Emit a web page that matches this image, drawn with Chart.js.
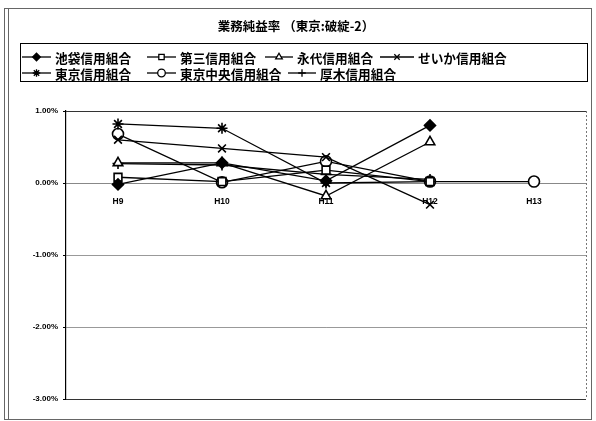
<!DOCTYPE html>
<html>
<head>
<meta charset="utf-8">
<script src="https://cdn.jsdelivr.net/npm/chart.js@4/dist/chart.umd.min.js"></script>
<style>
  body { margin: 0; background: #fff; }
  canvas { display: block; }
</style>
</head>
<body>
<canvas id="chart" width="596" height="421"></canvas>
<script>
const categories = ["H9", "H10", "H11", "H12", "H13"];
const seriesNames = ["池袋信用組合", "第三信用組合", "永代信用組合", "せいか信用組合", "東京信用組合", "東京中央信用組合", "厚木信用組合"];

const ikebukuro = [-0.02, 0.28, 0.03, 0.80, null];
const daisan = [0.08, 0.02, 0.18, 0.02, null];
const eidai = [0.28, 0.28, -0.18, 0.57, null];
const seika = [0.60, 0.48, 0.36, -0.30, null];
const tokyo = [0.82, 0.76, 0.00, 0.02, null];
const tokyoChuo = [0.68, 0.01, 0.30, 0.02, 0.02];
const atsugi = [0.27, 0.25, 0.12, 0.05, null];

const yTicks = [1, 0, -1, -2, -3];

const seriesValues = [ikebukuro, daisan, eidai, seika, tokyo, tokyoChuo, atsugi];
const markers = [
  { style: "rectRot", fill: "#000" },
  { style: "rect", fill: "#fff" },
  { style: "triangle", fill: "#fff" },
  { style: "crossRot", fill: "#fff" },
  { style: "star", fill: "#fff" },
  { style: "circle", fill: "#fff" },
  { style: "cross", fill: "#fff" }
];

// legend entry positions: [sample left, text left, row]
const legendPos = [[22, 55, 0], [147, 180, 0], [265, 297, 0], [380, 418, 0], [22, 55, 1], [147, 180, 1], [288, 320, 1]];

const jpFont = "'Noto Sans CJK JP', sans-serif";
const numFont = "'Liberation Sans', Arial, sans-serif";

const datasets = seriesNames.map((name, i) => ({
  label: name,
  data: seriesValues[i],
  borderColor: "#000",
  borderWidth: 1.3,
  pointStyle: markers[i].style,
  pointRadius: 5.5,
  pointBorderColor: "#000",
  pointBorderWidth: 1.6,
  pointBackgroundColor: markers[i].fill,
  tension: 0
}));

// plot frame + outer border + line/marker legend
const decorations = {
  id: "decorations",
  beforeDatasetsDraw(chart) {
    const { ctx, chartArea: a } = chart;
    ctx.save();
    ctx.lineWidth = 1;
    ctx.strokeStyle = "#333";
    ctx.beginPath();
    ctx.moveTo(a.left, a.top + 0.5);
    ctx.lineTo(a.right, a.top + 0.5);
    ctx.moveTo(a.left, a.bottom + 0.5);
    ctx.lineTo(a.right, a.bottom + 0.5);
    ctx.stroke();
    ctx.setLineDash([2, 2]);
    ctx.strokeStyle = "#777";
    ctx.beginPath();
    ctx.moveTo(a.right + 0.5, a.top);
    ctx.lineTo(a.right + 0.5, a.bottom);
    ctx.stroke();
    ctx.restore();
  },
  afterDraw(chart) {
    const ctx = chart.ctx;
    ctx.save();
    // outer border
    ctx.strokeStyle = "#666";
    ctx.lineWidth = 1;
    ctx.strokeRect(4.5, 8.5, 587, 411);
    ctx.beginPath();
    ctx.moveTo(8.5, 9);
    ctx.lineTo(8.5, 419);
    ctx.stroke();
    // legend box
    ctx.strokeStyle = "#000";
    ctx.strokeRect(20.5, 43.5, 567, 38);
    const rows = [57, 73];
    ctx.font = "bold 12.7px " + jpFont;
    ctx.textBaseline = "middle";
    chart.data.datasets.forEach((ds, i) => {
      const [sx, tx, r] = legendPos[i];
      const y = rows[r];
      const w = tx - sx - 4;
      ctx.lineWidth = 1.3;
      ctx.strokeStyle = "#000";
      ctx.beginPath();
      ctx.moveTo(sx, y);
      ctx.lineTo(sx + w, y);
      ctx.stroke();
      ctx.fillStyle = ds.pointBackgroundColor;
      Chart.helpers.drawPoint(ctx, { pointStyle: ds.pointStyle, radius: 3.8, borderWidth: 1.3, rotation: 0 }, sx + w / 2, y);
      ctx.fillStyle = "#000";
      ctx.fillText(ds.label, tx, y + 1);
    });
    ctx.restore();
  }
};

new Chart(document.getElementById("chart"), {
  type: "line",
  data: { labels: categories, datasets: datasets },
  options: {
    responsive: false,
    animation: false,
    layout: { padding: { left: 6, right: 10, bottom: 22 } },
    plugins: {
      legend: { display: false },
      tooltip: { enabled: false },
      title: {
        display: true,
        text: "業務純益率 （東京:破綻-2）",
        color: "#000",
        font: { family: jpFont, size: 12.5, weight: "bold" },
        padding: { top: 19, bottom: 77 }
      }
    },
    scales: {
      x: {
        type: "category",
        position: { y: 0 },
        offset: true,
        grid: { display: false },
        border: { color: "#888", width: 1 },
        ticks: { color: "#000", font: { family: numFont, size: 8.5, weight: "bold" }, padding: 6, maxRotation: 0 }
      },
      y: {
        min: -3,
        max: 1,
        afterBuildTicks(scale) { scale.ticks = yTicks.map(v => ({ value: v })); },
        afterFit(scale) { scale.width = 60; },
        grid: { color: "#999", tickLength: 3, tickColor: "#000" },
        border: { color: "#000", width: 1.2 },
        ticks: {
          color: "#000",
          font: { family: numFont, size: 8, weight: "bold" },
          padding: 5,
          callback: v => v.toFixed(2) + "%"
        }
      }
    }
  },
  plugins: [decorations]
});
</script>
</body>
</html>
